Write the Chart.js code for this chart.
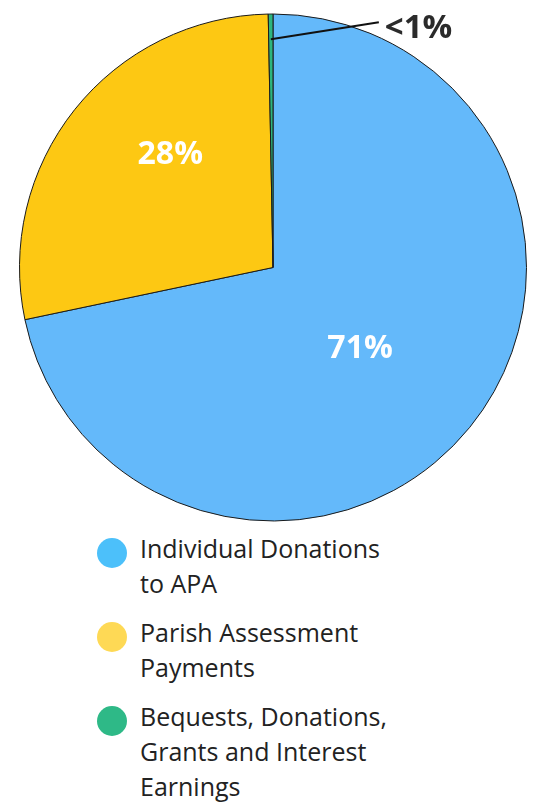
<!DOCTYPE html>
<html>
<head>
<meta charset="utf-8">
<script src="https://cdn.jsdelivr.net/npm/chart.js@4/dist/chart.umd.min.js"></script>
<style>
  html, body { margin: 0; padding: 0; background: #fff; }
  #wrap { position: relative; width: 541px; height: 803px; overflow: hidden; }
  #pie-box { position: absolute; left: 0; top: 0; width: 541px; height: 530px; }
  #legend { position: absolute; left: 97px; top: 531px; margin: 0; padding: 0; list-style: none;
            font-family: "Open Sans", sans-serif; font-size: 25px; line-height: 35px; color: #222; }
  #legend li { display: flex; align-items: flex-start; margin-bottom: 14px; }
  #legend .dot { width: 30px; height: 30px; border-radius: 50%; margin-top: 7px; margin-right: 13px; flex: none; }
</style>
</head>
<body>
<div id="wrap">
  <div id="pie-box"><canvas id="pie"></canvas></div>
  <ul id="legend"></ul>
</div>
<script>
// Revenue split pie with percent labels and an HTML legend below.
const categories = [
  ["Individual Donations", "to APA"],
  ["Parish Assessment", "Payments"],
  ["Bequests, Donations,", "Grants and Interest", "Earnings"],
];
const shares = [71.7, 28.0, 0.3];
const pctLabels = ["71%", "28%", "<1%"];

const sliceColors = ["#64b9fa", "#fdc813", "#2db57f"];
const dotColors = ["#4cc0fa", "#fed955", "#2eb987"];

// --- legend ---
const legend = document.getElementById("legend");
categories.forEach((lines, i) => {
  const li = document.createElement("li");
  const dot = document.createElement("span");
  dot.className = "dot";
  dot.style.background = dotColors[i];
  const txt = document.createElement("span");
  txt.innerHTML = lines.join("<br>");
  li.appendChild(dot);
  li.appendChild(txt);
  legend.appendChild(li);
});

// --- slice labels ---
// per slice: radius fraction + angle nudge (deg) for the inside labels, null = leader line
const labelPlacement = [
  { r: 0.47, shift: 4 },
  { r: 0.6, shift: 9 },
  null,
];

const pctPlugin = {
  id: "pctLabels",
  afterDatasetsDraw(chart) {
    const ctx = chart.ctx;
    const arcs = chart.getDatasetMeta(0).data;
    ctx.save();
    ctx.textAlign = "center";
    ctx.textBaseline = "middle";
    arcs.forEach((arc, i) => {
      const p = arc.getProps(["x", "y", "startAngle", "endAngle", "outerRadius"], true);
      const mid = (p.startAngle + p.endAngle) / 2;
      const place = labelPlacement[i];
      if (place) {
        const a = mid + place.shift * Math.PI / 180;
        const rr = p.outerRadius * place.r;
        ctx.font = "bold 32px 'Open Sans', sans-serif";
        ctx.fillStyle = "#fff";
        ctx.fillText(pctLabels[i], p.x + Math.cos(a) * rr, p.y + Math.sin(a) * rr);
      } else {
        // leader line from inside the sliver out to the upper right
        const sx = p.x + Math.cos(mid) * p.outerRadius * 0.9;
        const sy = p.y + Math.sin(mid) * p.outerRadius * 0.9;
        const ex = sx + 108, ey = sy - 17;
        ctx.strokeStyle = "#111";
        ctx.lineWidth = 2;
        ctx.beginPath();
        ctx.moveTo(sx, sy);
        ctx.lineTo(ex, ey);
        ctx.stroke();
        ctx.font = "bold 33px 'Open Sans', sans-serif";
        ctx.fillStyle = "#2b2b2b";
        ctx.textAlign = "left";
        ctx.fillText(pctLabels[i], ex + 6, ey + 6);
        ctx.textAlign = "center";
      }
    });
    ctx.restore();
  },
};

new Chart(document.getElementById("pie"), {
  type: "pie",
  data: {
    labels: categories.map((l) => l.join(" ")),
    datasets: [{
      data: shares,
      backgroundColor: sliceColors,
      borderColor: "#1a1a1a",
      borderWidth: 1,
    }],
  },
  options: {
    responsive: true,
    maintainAspectRatio: false,
    animation: false,
    layout: { padding: { left: 19, right: 14, top: 13, bottom: 8 } },
    plugins: { legend: { display: false }, tooltip: { enabled: false } },
  },
  plugins: [pctPlugin],
});
</script>
</body>
</html>
